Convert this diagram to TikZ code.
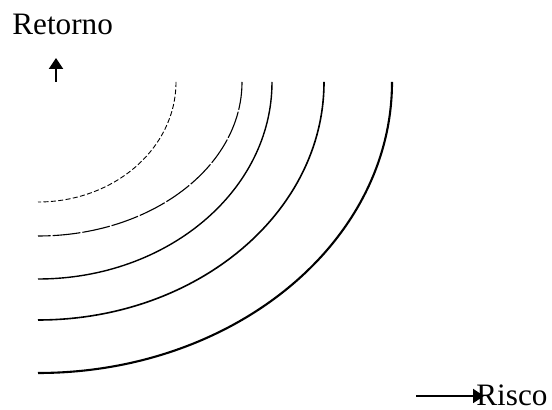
\documentclass[tikz,border=0pt]{standalone}
\usepackage{fontspec}
\setmainfont{Liberation Serif}
\usepackage{tikz}
\usetikzlibrary{arrows.meta,positioning,calc}
\definecolor{ink}{HTML}{000000}
\colorlet{acc}{ink}
\tikzset{
  axis/.style={draw=ink,line width=0.95pt,-{Triangle[length=5.5pt,width=7pt]}},
  lbl/.style={inner sep=0pt,font=\fontsize{15.6}{18}\selectfont,text=ink}
}

\begin{document}
\begin{tikzpicture}[x=0.5pt,y=-0.5pt]
    \useasboundingbox (0,0) rectangle (552,410);
    \node[lbl,anchor=west] (ret) at (12,24.5) {Retorno};
    \coordinate (ybase) at (56,82);
    \coordinate (ytip) at (56,58);
    \draw[axis] (ybase) -- (ytip);
    \coordinate (xbase) at (416,396);
    \node[lbl,anchor=west] (risco) at (476,395.5) {Risco};
    \draw[axis,shorten >=-4pt] (xbase) -- (xbase -| risco.west);
    % curves, inner one dashed
    \draw[acc,line width=0.45pt,dash pattern=on 2.5pt off 1.2pt]
      (176,82) arc[start angle=0,end angle=90,x radius=138,y radius=120];
    \draw[acc,line width=0.55pt,dash pattern=on 14pt off 1pt]
      (242,82) arc[start angle=0,end angle=90,x radius=204,y radius=154];
    \foreach \rx/\ry/\w in {234/197/0.7,286/238/0.8,354/291/1.05}{
      \draw[acc,line width=\w pt] (38+\rx,82)
        arc[start angle=0,end angle=90,x radius=\rx,y radius=\ry];}
\end{tikzpicture}
\end{document}
